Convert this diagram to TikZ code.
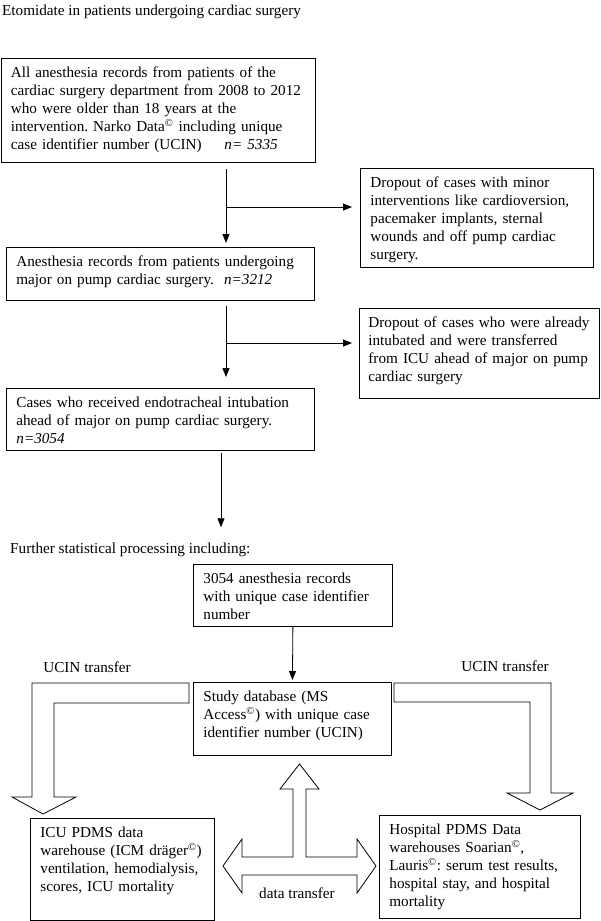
\documentclass[tikz,border=0pt]{standalone}
\usepackage{fontspec}
\setmainfont{Liberation Serif}
\usetikzlibrary{arrows.meta}

\begin{document}
\begin{tikzpicture}[x=1pt,y=-1pt,
    every node/.style={font=\fontsize{15.2}{18}\selectfont\frenchspacing},
    recbox/.style={draw, line width=0.8pt, anchor=north west, align=left,
      inner xsep=10pt, inner ysep=8pt, text height=11pt},
    plain/.style={inner sep=0pt, anchor=base west},
    flowarr/.style={line width=0.8pt, -{Triangle[length=9pt,width=7pt]}},
    blockarr/.style={draw, line width=0.8pt, fill=white, line join=miter}]
  \useasboundingbox (0,0) rectangle (600,921);

  % selection of the records
  \node[plain] (title) at (2,15) {Etomidate in patients undergoing cardiac surgery};
  \node[recbox, text width=294.5pt, text depth=77pt] (rec) at (0.5,58)
    {All anesthesia records from patients of the\\
     cardiac surgery department from 2008 to 2012\\
     who were older than 18 years at the\\
     intervention. Narko Data\textsuperscript{©} including unique\\
     case identifier number (UCIN)\hspace{1.5em}\textit{n= 5335}};
  \node[recbox, text width=213pt, text depth=72pt] (drop1) at (360,168)
    {Dropout of cases with minor\\
     interventions like cardioversion,\\
     pacemaker implants, sternal\\
     wounds and off pump cardiac\\
     surgery.};
  \node[recbox, text width=288pt, text depth=26pt] (major) at (6,247)
    {Anesthesia records from patients undergoing\\
     major on pump cardiac surgery.\ \ \textit{n=3212}};
  \node[recbox, inner xsep=9pt, text width=222pt, text depth=63pt] (drop2) at (359,308)
    {Dropout of cases who were already\\
     intubated and were transferred\\
     from ICU ahead of major on pump\\
     cardiac surgery};
  \node[recbox, text width=288pt, text depth=35pt] (intub) at (6,388)
    {Cases who received endotracheal intubation\\
     ahead of major on pump cardiac surgery.\\
     \textit{n=3054}};

  \coordinate (c1) at (226,0);
  \coordinate (b1) at (226,207);
  \coordinate (b2) at (226,343);
  \coordinate (c3) at (221,0);
  \draw[flowarr, shorten <=6pt, shorten >=4pt] (rec.south -| c1) -- (major.north -| c1);
  \draw[flowarr, shorten >=8pt] (b1) -- (b1 -| drop1.west);
  \draw[flowarr, shorten <=5pt, shorten >=11pt] (major.south -| c1) -- (intub.north -| c1);
  \draw[flowarr, shorten >=7pt] (b2) -- (b2 -| drop2.west);

  % further processing
  \node[plain] (further) at (10,553) {Further statistical processing including:};
  \draw[flowarr, shorten <=2pt, shorten >=15pt] (intub.south -| c3) -- (further.north -| c3);

  \node[recbox, text width=179pt, text depth=35pt] (recs) at (193,564)
    {3054 anesthesia records\\
     with unique case identifier\\
     number};
  \node[recbox, text width=178pt, text depth=46pt] (study) at (193,682)
    {Study database (MS\\
     Access\textsuperscript{©}) with unique case\\
     identifier number (UCIN)};
  \draw[flowarr, shorten >=2pt] (recs.south) -- (study.north);

  \node[recbox, text width=164pt, text depth=75pt] (icu) at (30,818)
    {ICU PDMS data\\
     warehouse (ICM dräger\textsuperscript{©})\\
     ventilation, hemodialysis,\\
     scores, ICU mortality};
  \node[recbox, text width=181pt, text depth=76pt] (hosp) at (379,815)
    {Hospital PDMS Data\\
     warehouses Soarian\textsuperscript{©},\\
     Lauris\textsuperscript{©}: serum test results,\\
     hospital stay, and hospital\\
     mortality};

  % block arrows
  \draw[blockarr] (189,683) -- (32,683) -- (32,797) -- (12,797) -- (43,814)
    -- (76,797) -- (54,797) -- (54,703) -- (189,703) -- cycle;
  \draw[blockarr] (394,683) -- (551,683) -- (551,793) -- (573,793) -- (540,810)
    -- (507,793) -- (530,793) -- (530,702) -- (394,702) -- cycle;
  \draw[blockarr] (299.5,764) -- (319,789) -- (306,789) -- (306,857) -- (357,857)
    -- (357,839) -- (376,866) -- (357,893) -- (357,875) -- (242,875) -- (242,893)
    -- (223,866) -- (242,839) -- (242,857) -- (293,857) -- (293,789) -- (280,789) -- cycle;

  \node[plain, anchor=base] (ucinl) at (87,672) {UCIN transfer};
  \node[plain, anchor=base] (ucinr) at (505,671) {UCIN transfer};
  \node[plain, anchor=base] (dtrans) at (297,898) {data transfer};
\end{tikzpicture}
\end{document}
